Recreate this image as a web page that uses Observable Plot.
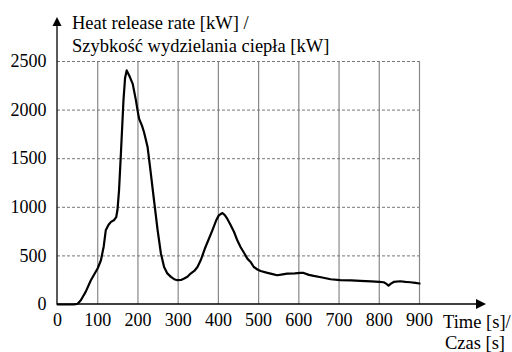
<!DOCTYPE html>
<html>
<head>
<meta charset="utf-8">
<script src="https://cdn.jsdelivr.net/npm/d3@7"></script>
<script src="https://cdn.jsdelivr.net/npm/@observablehq/plot@0.6"></script>
<style>
  html, body { margin: 0; padding: 0; background: #fff; }
</style>
</head>
<body>
<div id="chart"></div>
<script>
const time = [0,40,45,50,58,70,83,100,108,115,120,127,133,141,146,149,153,158,164,168,172,180,187,195,199,203,210,215,224,232,240,249,257,265,273,282,290,298,307,315,323,331,340,348,356,368,385,395,401,410,416,422,430,439,447,455,464,472,480,488,497,505,522,535,546,560,571,590,604,612,625,637,655,679,703,730,753,780,800,811,817,823,829,836,852,865,877,890,900];
const hrr = [0,0,3,8,44,130,250,373,455,600,763,820,850,870,900,969,1175,1585,2100,2330,2408,2340,2270,2100,1997,1910,1840,1775,1620,1350,1070,763,527,386,320,284,260,250,252,267,285,318,345,386,455,592,763,870,917,941,920,883,820,746,660,592,530,472,438,386,360,345,325,312,301,310,318,320,325,325,305,294,280,260,250,248,243,238,232,229,215,195,215,232,239,233,229,222,216];
const xTicks = [0,100,200,300,400,500,600,700,800,900];
const yTicks = [0,500,1000,1500,2000,2500];
const yTitle = ["Heat release rate [kW] /", "Szybkość wydzielania ciepła [kW]"];
const xTitle = ["Time [s]/", "Czas [s]"];

const data = time.map((t, i) => ({t, q: hrr[i]}));
const FONT = "Liberation Serif";

const chart = Plot.plot({
  width: 512,
  height: 352,
  marginLeft: 57,
  marginRight: 93,
  marginTop: 61,
  marginBottom: 48,
  x: {domain: [0, 900]},
  y: {domain: [0, 2500]},
  marks: [
    Plot.ruleX(xTicks.filter(d => d > 0), {stroke: "#888", strokeWidth: 1.2}),
    Plot.ruleY(yTicks.filter(d => d > 0), {stroke: "#777", strokeWidth: 1, strokeDasharray: "3,2"}),
    Plot.axisX({ticks: xTicks, tickSize: 0, tickPadding: 9, label: null, fontSize: 18, fill: "#000", tickFormat: d => String(d)}),
    Plot.axisY({ticks: yTicks, tickSize: 0, tickPadding: 11, label: null, fontSize: 18, fill: "#000", tickFormat: d => String(d)}),
    Plot.line(data, {x: "t", y: "q", stroke: "#000", strokeWidth: 2.2, strokeLinejoin: "round"})
  ]
});

document.getElementById("chart").appendChild(chart);

const sx = chart.scale("x"), sy = chart.scale("y");
const svg = d3.select(chart);
svg.attr("font-family", FONT);
svg.selectAll("g").attr("font-family", FONT);
svg.selectAll("text").attr("font-family", FONT);
const x0 = sx.apply(0), y0 = sy.apply(0);
const g = svg.append("g").attr("text-anchor", "start").attr("font-family", FONT).attr("font-size", 18.5).attr("fill", "#000");
g.append("line").attr("x1", x0).attr("x2", x0).attr("y1", y0).attr("y2", 24).attr("stroke", "#000").attr("stroke-width", 1.3);
g.append("path").attr("d", `M${x0},17 L${x0-4.5},26 L${x0+4.5},26 Z`).attr("fill", "#000");
g.append("line").attr("x1", x0).attr("x2", 478).attr("y1", y0).attr("y2", y0).attr("stroke", "#000").attr("stroke-width", 1.3);
g.append("path").attr("d", `M486,${y0} L476,${y0-5} L476,${y0+5} Z`).attr("fill", "#000");
g.append("text").attr("x", 72).attr("y", 29).text(yTitle[0]);
g.append("text").attr("x", 72).attr("y", 52).text(yTitle[1]);
g.append("text").attr("x", 443).attr("y", 328).text(xTitle[0]);
g.append("text").attr("x", 505).attr("y", 349).attr("text-anchor", "end").text(xTitle[1]);
</script>
</body>
</html>
